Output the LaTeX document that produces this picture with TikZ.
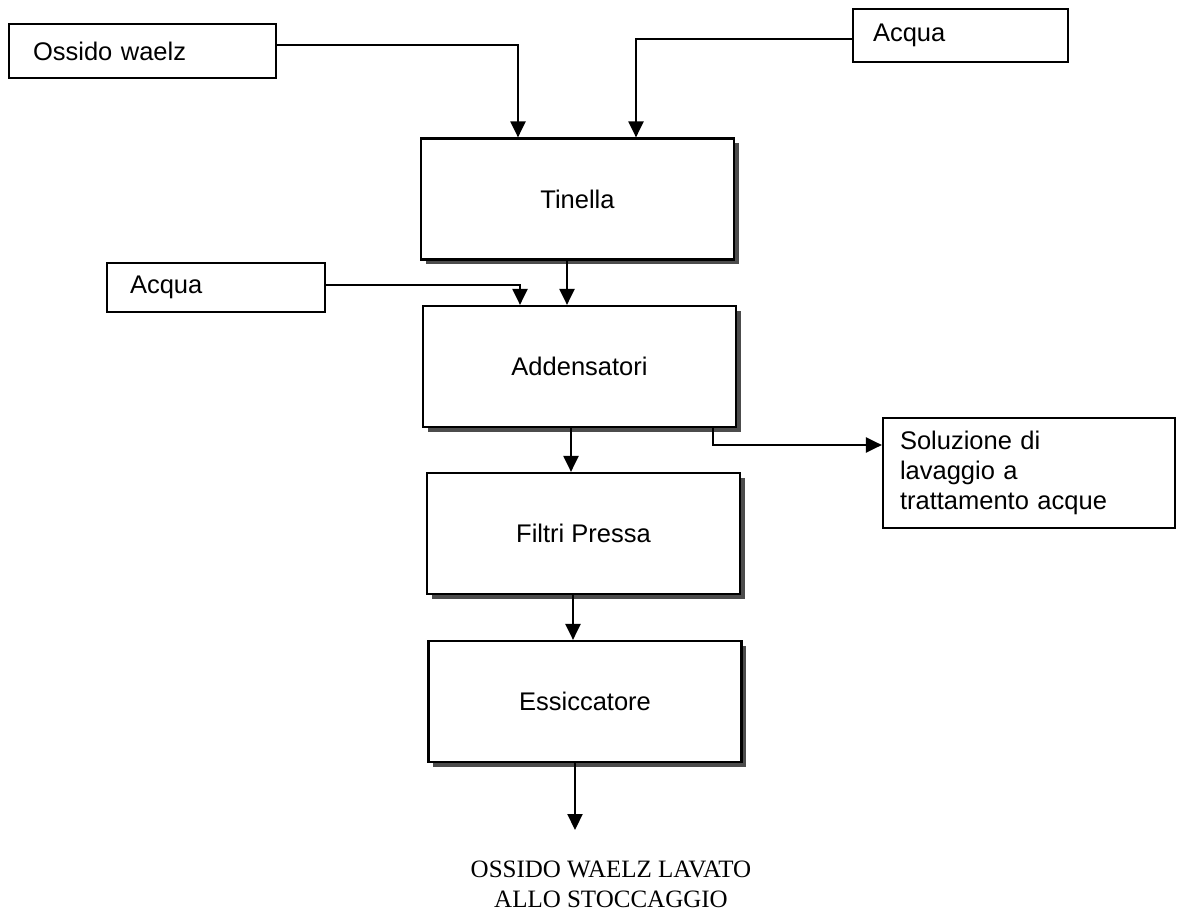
\documentclass[tikz,border=0pt]{standalone}
\usepackage{fontspec}
\setmainfont{Liberation Sans}
\newfontfamily\serifcaps{Liberation Serif}
\usetikzlibrary{arrows.meta,shadows,calc}
\begin{document}
\begin{tikzpicture}[x=1pt,y=-1pt,
  every node/.style={font=\fontsize{25.5}{30}\selectfont},
  smallbox/.style={draw=black, line width=2.2pt, fill=white, rectangle, inner ysep=0pt, align=left},
  procbox/.style={draw=black, line width=2.2pt, fill=white, rectangle, minimum width=313pt, minimum height=121pt,
     drop shadow={shadow xshift=4.5pt, shadow yshift=-4.5pt, fill=black!70, opacity=1}},
  arr/.style={draw=black, line width=2.2pt, -{Triangle[length=16pt,width=15pt]}},
  conn/.style={draw=black, line width=2.2pt}
]
\useasboundingbox (0,0) rectangle (1183,920);

% input / output small boxes
\node[smallbox, inner xsep=24pt, text width=219pt, minimum height=54pt] (oss) at (142.5,51) {Ossido waelz};
\node[smallbox, inner xsep=20pt, text width=175pt, minimum height=53pt] (acq1) at (960.5,35.5) {Acqua};
\node[smallbox, inner xsep=23pt, text width=172pt, minimum height=49pt] (acq2) at (216,287.5) {Acqua};
\node[smallbox, inner xsep=17pt, text width=258pt, minimum height=110pt] (sol) at (1029,473) {Soluzione di\\lavaggio a\\trattamento acque};

% process boxes
\node[procbox] (tin) at (577.5,199) {Tinella};
\node[procbox] (add) at (579.5,366.5) {Addensatori};
\node[procbox] (fil) at (583.5,533.5) {Filtri Pressa};
\node[procbox] (ess) at (585,701.5) {Essiccatore};

% final product
\node[font=\serifcaps\fontsize{25}{30}\selectfont, align=center] (prod) at (611,884) {OSSIDO WAELZ LAVATO\\ALLO STOCCAGGIO};
\coordinate (outtip) at (575,830);

% connectors
\draw[arr] ([yshift=6pt]oss.east) -| ([xshift=-59.5pt]tin.north);
\draw[arr] ([yshift=-3.5pt]acq1.west) -| ([xshift=58.5pt]tin.north);
\draw[arr] ([yshift=2.5pt]acq2.east) -| ([xshift=-59.5pt]add.north);
\draw[arr] ([xshift=-10.5pt]tin.south) -- ([xshift=-12.5pt]add.north);
\draw[arr] ([xshift=-8.5pt]add.south) -- ([xshift=-12.5pt]fil.north);
\draw[arr] ([xshift=-10.5pt]fil.south) -- ([xshift=-12pt]ess.north);
\draw[arr] ([xshift=-10pt]ess.south) -- (outtip);
\draw[arr] ([xshift=133.5pt]add.south) |- ([yshift=28pt]sol.west);
\end{tikzpicture}
\end{document}
